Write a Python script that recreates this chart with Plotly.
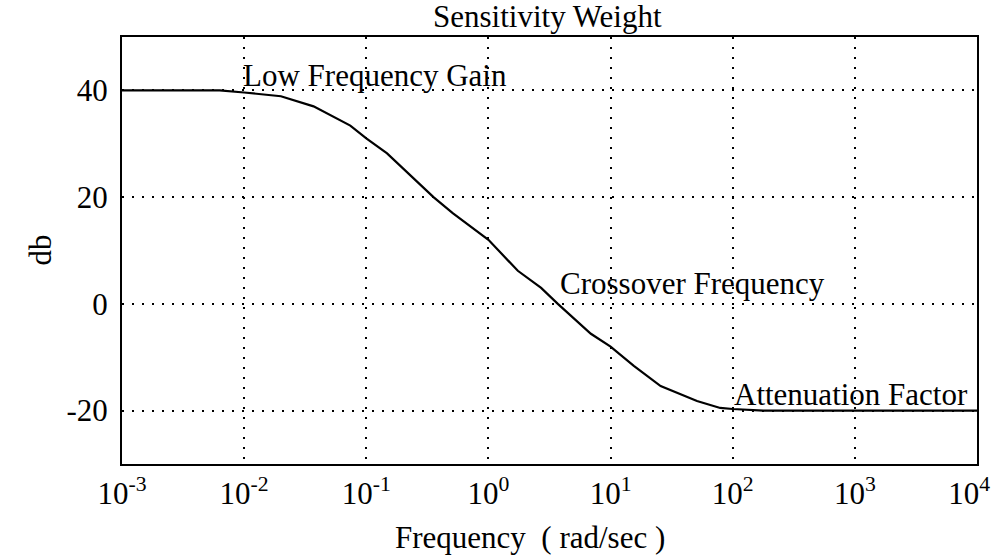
import math
import plotly.graph_objects as go

# Data
freq = [0.001, 0.0063, 0.01, 0.02, 0.037, 0.074, 0.1, 0.148, 0.355, 0.51, 1.0,
        1.74, 2.7, 3.7, 6.9, 10.0, 15.5, 25.7, 51.0, 79.0, 100.0, 178.0, 10000.0]
gain_db = [40, 40, 39.6, 38.9, 37, 33.4, 31, 28.2, 20, 17, 12,
           6.2, 3.0, 0, -5.6, -8, -11.6, -15.4, -18.2, -19.5, -19.7, -20, -20]

x_tickvals = [1e-3, 1e-2, 1e-1, 1e0, 1e1, 1e2, 1e3, 1e4]
x_ticktext = ["10<sup>-3</sup>", "10<sup>-2</sup>", "10<sup>-1</sup>", "10<sup>0</sup>",
              "10<sup>1</sup>", "10<sup>2</sup>", "10<sup>3</sup>",
              "10<sup>4</sup>&nbsp;&nbsp;"]
y_tickvals = [-20, 0, 20, 40]
y_ticktext = ["-20", "0", "20", "40"]

labels = ["Low Frequency Gain", "Crossover Frequency", "Attenuation Factor"]
label_x = [0.01, 3.9, 105]
label_y = [42.8, 3.8, -16.9]

FONT = "Liberation Serif, Times New Roman, serif"
FS = 31

fig = go.Figure()
fig.add_trace(go.Scatter(x=freq, y=gain_db, mode="lines",
                         line=dict(color="black", width=2.2), showlegend=False))

for t, lx, ly in zip(labels, label_x, label_y):
    fig.add_annotation(x=math.log10(lx), y=ly, text=t, showarrow=False,
                       xanchor="left", yanchor="middle", xshift=-3,
                       font=dict(family=FONT, size=FS, color="black"))

fig.add_annotation(text="Sensitivity Weight", xref="paper", yref="paper",
                   x=0.498, y=1.0, xanchor="center", yanchor="bottom", yshift=1,
                   showarrow=False, font=dict(family=FONT, size=FS, color="black"))
fig.add_annotation(text="Frequency  ( rad/sec )", xref="paper", yref="paper",
                   x=0.477, y=0, xanchor="center", yanchor="middle", yshift=-73,
                   showarrow=False, font=dict(family=FONT, size=FS, color="black"))
fig.add_annotation(text="db", xref="paper", yref="paper", textangle=-90,
                   x=0, y=0.5, xanchor="center", yanchor="middle", xshift=-82,
                   showarrow=False, font=dict(family=FONT, size=FS, color="black"))

fig.update_xaxes(type="log", range=[-3, 4], tickvals=x_tickvals, ticktext=x_ticktext,
                 showgrid=True, gridcolor="black", gridwidth=2, griddash="2px,8px",
                 showline=True, linecolor="black", linewidth=2, mirror=True,
                 ticks="outside", ticklen=1, tickcolor="rgba(0,0,0,0)",
                 ticklabeloverflow="allow", automargin=False,
                 tickfont=dict(family=FONT, size=FS, color="black"), zeroline=False)
fig.update_yaxes(range=[-30, 50], tickvals=y_tickvals, ticktext=y_ticktext,
                 showgrid=True, gridcolor="black", gridwidth=2, griddash="2px,8px",
                 showline=True, linecolor="black", linewidth=2, mirror=True,
                 ticks="outside", ticklen=6, tickcolor="rgba(0,0,0,0)",
                 automargin=False,
                 tickfont=dict(family=FONT, size=FS, color="black"), zeroline=False)

fig.update_layout(width=992, height=555, plot_bgcolor="white", paper_bgcolor="white",
                  margin=dict(l=122, r=15, t=37, b=91, autoexpand=False))

# remove the default page margin so the figure sits at the window's top-left corner
fig.write_html("out.html", config={"displayModeBar": False},
               post_script="document.body.style.margin='0px';document.body.style.overflow='hidden';")
